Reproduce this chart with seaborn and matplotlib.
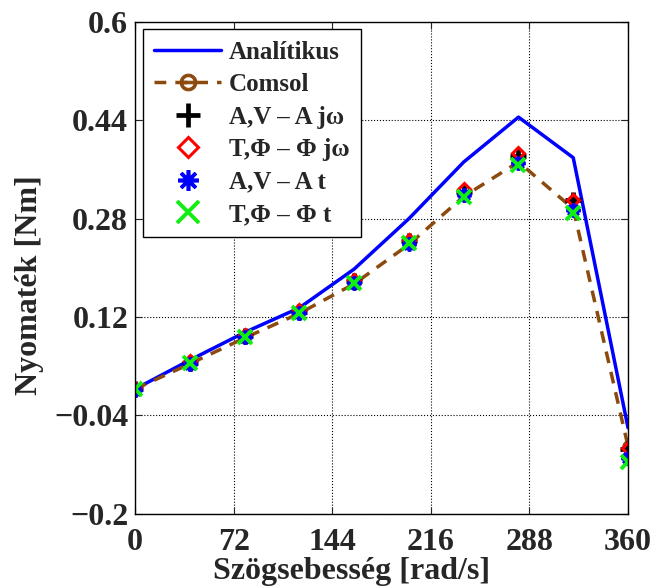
import numpy as np
import matplotlib
matplotlib.use("Agg")
from matplotlib import pyplot as plt
import seaborn as sns

# data
speed = [0, 40, 80, 120, 160, 200, 240, 280, 320, 360]
analitikus = [0.003, 0.05, 0.095, 0.135, 0.198, 0.28, 0.372, 0.445, 0.379, -0.06]
comsol = [0.003, 0.044, 0.086, 0.126, 0.174, 0.238, 0.316, 0.372, 0.296, -0.09]
av_jw = [0.003, 0.046, 0.089, 0.129, 0.178, 0.243, 0.324, 0.381, 0.311, -0.095]
tf_jw = [0.005, 0.048, 0.091, 0.131, 0.180, 0.246, 0.328, 0.386, 0.311, -0.093]
av_t = [0.002, 0.044, 0.087, 0.127, 0.175, 0.239, 0.318, 0.370, 0.294, -0.109]
tf_t = [0.003, 0.045, 0.087, 0.127, 0.176, 0.240, 0.315, 0.367, 0.289, -0.115]

xticks = [0, 72, 144, 216, 288, 360]
yticks = [-0.2, -0.04, 0.12, 0.28, 0.44, 0.6]
ytick_labels = ["\u22120.2", "\u22120.04", "0.12", "0.28", "0.44", "0.6"]

sns.set_style("white")
plt.rcParams['font.family'] = ['Liberation Serif', 'DejaVu Serif']
plt.rcParams['font.weight'] = 'bold'
plt.rcParams['axes.labelweight'] = 'bold'

fig = plt.figure(figsize=(6.59, 5.88), dpi=100)
ax = fig.add_axes([0.205, 0.126, 0.748, 0.837])

brown = '#8c4a0e'
green = '#11ee11'

def markers_only(y, marker, color, ms, mew, label, filled=False):
    sns.lineplot(x=speed, y=y, ax=ax, color=color, ls='none', marker=marker, label=label)
    ln = ax.lines[-1]
    ln.set_markersize(ms)
    ln.set_markeredgewidth(mew)
    ln.set_markeredgecolor(color)
    ln.set_markerfacecolor(color if filled else 'none')

sns.lineplot(x=speed, y=analitikus, ax=ax, color='blue', lw=2.5, label='Analítikus')
sns.lineplot(x=speed, y=comsol, ax=ax, color=brown, lw=2.5, label='Comsol')
ln = ax.lines[-1]
ln.set_dashes((3.4, 2.6))
ln.set_marker(r'$\ominus$')
ln.set_markersize(8)
ln.set_markeredgewidth(0.8)
ln.set_markeredgecolor(brown)
ln.set_markerfacecolor(brown)

markers_only(av_jw, '+', 'black', 11.5, 3.4, 'A,V – A jω')
markers_only(tf_jw, 'D', 'red', 6.5, 2.2, 'T,Φ – Φ jω')
markers_only(av_t, (8, 2, 0), 'blue', 10, 2.6, 'A,V – A t')
markers_only(tf_t, 'x', green, 10.5, 2.8, 'T,Φ – Φ t')

ax.set_xlim(0, 360)
ax.set_ylim(-0.2, 0.6)
ax.set_xticks(xticks)
ax.set_xticklabels([str(t) for t in xticks])
ax.set_yticks(yticks)
ax.set_yticklabels(ytick_labels)
ax.tick_params(direction='in', length=5, width=0.8, labelsize=23,
               top=True, right=True, bottom=True, left=True)
ax.tick_params(axis='x', pad=10)
ax.tick_params(axis='y', pad=5)
for lab in ax.get_xticklabels() + ax.get_yticklabels():
    lab.set_fontweight('bold')
ax.grid(True, ls=':', color='black', lw=0.8)
for s in ax.spines.values():
    s.set_color('black')
    s.set_linewidth(1.0)

ax.set_xlabel('Szögsebesség [rad/s]', fontsize=23, fontweight='bold')
ax.set_ylabel('Nyomaték [Nm]', fontsize=23, fontweight='bold')
ax.xaxis.set_label_coords(0.44, -0.088)
ax.yaxis.set_label_coords(-0.185, 0.465)

leg = ax.legend(loc='upper left', fontsize=18, handlelength=2.7, labelspacing=0.38,
                borderaxespad=0.3, fancybox=False, framealpha=1, borderpad=0.45,
                handletextpad=0.3, markerscale=1.5)
leg.get_frame().set_edgecolor('black')
leg.get_frame().set_linewidth(1.0)
for t in leg.get_texts():
    t.set_fontweight('bold')

fig.savefig('out.png', dpi=100)
